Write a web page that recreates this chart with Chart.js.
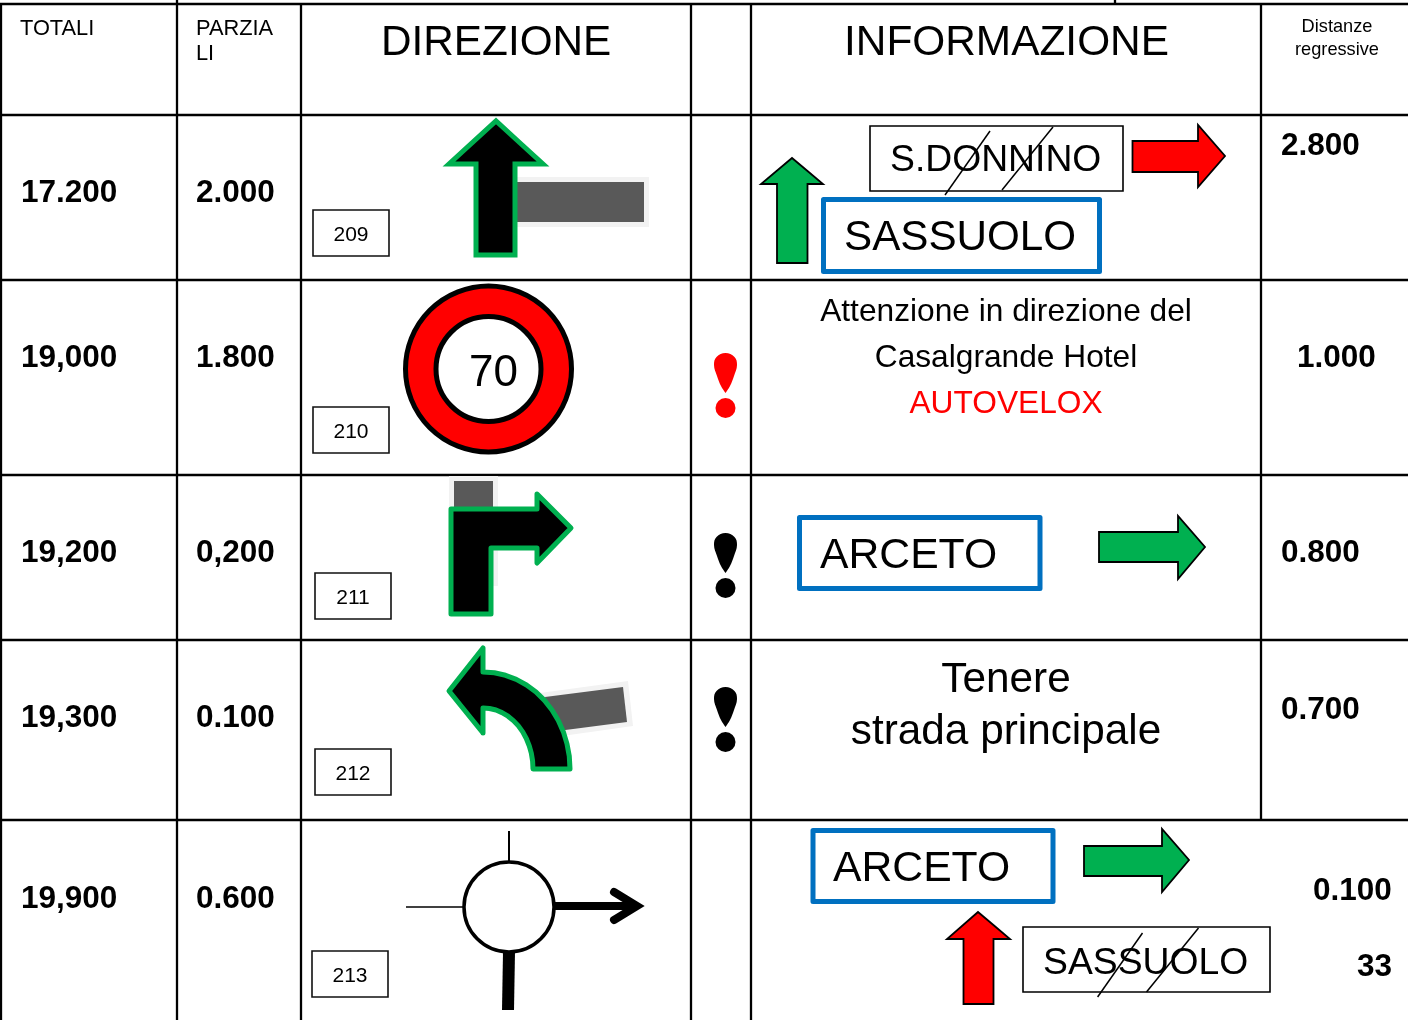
<!DOCTYPE html>
<html><head><meta charset="utf-8">
<style>html,body{margin:0;padding:0;background:#fff}canvas{display:block}</style>
<script src="https://cdn.jsdelivr.net/npm/chart.js@4"></script>
</head><body><canvas id="c" width="1408" height="1020"></canvas>
<script>
// ---- values ----
const totals = ['17.200','19,000','19,200','19,300','19,900'];
const partials = ['2.000','1.800','0,200','0.100','0.600'];
const rowBaselines = [202,367,562,727,908];
const signNumbers = ['209','210','211','212','213'];
const numberBoxes = [[313,210,389,256],[313,407,389,453],[315,573,391,619],[315,749,391,795],[312,951,388,997]];
const distances = [['2.800',1281,155],['1.000',1297,367],['0.800',1281,562],['0.700',1281,719],['0.100',1313,900],['33',1357,976]];
const columnLines = [[[1,4],[1,1020]],[[177,0],[177,1020]],[[301,4],[301,1020]],[[691,4],[691,1020]],[[751,4],[751,1020]],[[1261,4],[1261,820]],[[1115,0],[1115,4]]];
const rowLines = [4,115,280,475,640,820];
const headers = [['TOTALI',20,34.5,21.8,'left'],['PARZIA',196,34.5,21.8,'left'],['LI',196,60,21.8,'left'],['DIREZIONE',381,55,42.3,'left'],['INFORMAZIONE',844,55,42.4,'left'],['Distanze',1337,32,18.2,'center'],['regressive',1337,55,18.2,'center']];
const infoTexts = [
 ['S.DONNINO',890,171,37.3,'left','#000'],['SASSUOLO',844,250,42.2,'left','#000'],
 ['Attenzione in direzione del',1006,321,31.7,'center','#000'],['Casalgrande Hotel',1006,367,31.7,'center','#000'],['AUTOVELOX',1006,413,31.7,'center','#f00'],
 ['ARCETO',820,568,42.7,'left','#000'],['Tenere',1006,692,42.3,'center','#000'],['strada principale',1006,744,42.3,'center','#000'],
 ['ARCETO',833,881,42.7,'left','#000'],['SASSUOLO',1043,974,37.3,'left','#000'],['70',493.5,386,44,'center','#000']];
const road209Halo=[[517,177],[649,177],[649,227],[517,227],[517,177]];
const road209=[[517,182],[644,182],[644,222],[517,222],[517,182]];
const arrow209=[[496,121],[543,164],[515,164],[515,255],[476,255],[476,164],[449,164],[496,121]];
const road211Halo=[[449,476],[498,476],[498,586],[449,586],[449,476]];
const road211=[[454,481],[493,481],[493,581],[454,581],[454,481]];
const arrow211=[[451,509],[537,509],[537,494],[571,528],[537,563],[537,548],[491,548],[491,614],[451,614],[451,509]];
const road212Halo=[[540,693],[628,681],[633,726],[548,738],[540,693]];
const road212=[[545,697],[623,687],[627,722],[550,732],[545,697]];
const arrow212=[[449,691],[483,648],[483,672],[494.4,672.8],[505.5,675.3],[516.3,679.4],[526.5,685],[536,692],[544.5,700.4],[552,710],[558.3,720.5],[563.4,731.9],[567,743.9],[569.3,756.3],[570,769],[533,769],[532.6,761],[531.3,753.2],[529.2,745.7],[526.3,738.5],[522.7,731.9],[518.4,725.9],[513.4,720.6],[508,716.2],[502,712.6],[496,710],[489.5,708.5],[483,708],[483,733],[449,691]];
const upGreen=[[792,158],[823,184],[807.5,184],[807.5,263],[777,263],[777,184],[761,184],[792,158]];
const rightRed=[[1132.5,141],[1198,141],[1198,125],[1225,156],[1198,187],[1198,172],[1132.5,172],[1132.5,141]];
const rightGreen1=[[1099,532],[1178,532],[1178,516],[1205,547],[1178,579],[1178,562],[1099,562],[1099,532]];
const rightGreen2=[[1084,846],[1162,846],[1162,829],[1189,860],[1162,892],[1162,876],[1084,876],[1084,846]];
const upRed=[[978,912],[1010,939],[993.5,939],[993.5,1004],[963.5,1004],[963.5,939],[947,939],[978,912]];
const boxDonnino=[[870,126],[1123,126],[1123,191],[870,191],[870,126]];
const boxSassuoloStruck=[[1023,927],[1270,927],[1270,992],[1023,992],[1023,927]];
const blueSassuolo=[[823.5,199.5],[1099.5,199.5],[1099.5,271.5],[823.5,271.5],[823.5,199.5]];
const blueArceto1=[[799.5,517.5],[1040,517.5],[1040,588.5],[799.5,588.5],[799.5,517.5]];
const blueArceto2=[[813,830.5],[1053,830.5],[1053,901.5],[813,901.5],[813,830.5]];
const strikes=[[[990,131],[945,195]],[[1053,127],[1002,190]],[[1142.5,933],[1097.6,997]],[[1198.5,928],[1146.5,992]]];
const drops=[
 {color:'#f00',pts:[[725.5,393],[721,386],[717,376],[714,365],[716.5,357],[725.5,353],[734.5,357],[737,365],[734,376],[730,386],[725.5,393]],dot:[725.5,408]},
 {color:'#000',pts:[[725.5,573],[721,566],[717,556],[714,545],[716.5,537],[725.5,533],[734.5,537],[737,545],[734,556],[730,566],[725.5,573]],dot:[725.5,588]},
 {color:'#000',pts:[[725.5,727],[721,720],[717,710],[714,699],[716.5,691],[725.5,687],[734.5,691],[737,699],[734,710],[730,720],[725.5,727]],dot:[725.5,742]}];
const signCentre=[488.5,369];
const roundaboutCentre=[509,907];
const roundaboutTop=[[509,831],[509,861]];
const roundaboutLeft=[[406,907],[463,907]];
const roundaboutBottom=[[509,952],[508,1010]];
const roundaboutRight=[[555,906],[630,906]];
const roundaboutHead=[[614,892],[637,906],[614,920]];

// ---- build datasets in painting order ----
const toXY=p=>p.map(([x,y])=>({x,y}));
const GREEN='#00B050',BLUE='#0070C0',GRAY='#595959',HALO='#F2F2F2';
const ds=[];
// a closed outline starts and ends halfway along an edge so every corner gets a proper join
const seamless=p=>{const a=p[0],b=p[p.length-1];if(a[0]!==b[0]||a[1]!==b[1])return p;const c=p[1],m=[(a[0]+c[0])/2,(a[1]+c[1])/2];return [m,...p.slice(1),a,m];};
const shape=(pts,o)=>ds.push(Object.assign({type:'line',data:toXY(seamless(pts)),showLine:true,pointRadius:0,borderColor:'#000',borderWidth:1.8,backgroundColor:'transparent',fill:false,tension:0,borderJoinStyle:'miter',borderCapStyle:'butt'},o));
const filled=(pts,color,o={})=>shape(pts,Object.assign({fill:'shape',backgroundColor:color},o));
const disc=(c,r,fillC,bw)=>ds.push({type:'scatter',data:toXY([c]),pointRadius:r,pointBackgroundColor:fillC,pointBorderColor:'#000',pointBorderWidth:bw,showLine:false});

columnLines.forEach(l=>shape(l,{borderWidth:2.3}));
rowLines.forEach(y=>shape([[0,y],[1408,y]],{borderWidth:2.3}));
numberBoxes.forEach(([a,b,c,d])=>shape([[a,b],[c,b],[c,d],[a,d],[a,b]],{borderWidth:1.6,borderColor:'#111'}));
filled(road209Halo,HALO,{borderWidth:0});filled(road209,GRAY,{borderWidth:0});
filled(arrow209,'#000',{borderColor:GREEN,borderWidth:5});
disc(signCentre,83,'#f00',5);disc(signCentre,52.5,'#fff',5);
filled(road211Halo,HALO,{borderWidth:0});filled(road211,GRAY,{borderWidth:0});
filled(arrow211,'#000',{borderColor:GREEN,borderWidth:5,borderJoinStyle:'round'});
filled(road212Halo,HALO,{borderWidth:0});filled(road212,GRAY,{borderWidth:0});
filled(arrow212,'#000',{borderColor:GREEN,borderWidth:5,borderJoinStyle:'round'});
shape(roundaboutTop,{borderWidth:2});shape(roundaboutLeft,{borderWidth:1.5});
shape(roundaboutBottom,{borderWidth:12});shape(roundaboutRight,{borderWidth:8});
shape(roundaboutHead,{borderWidth:8,borderCapStyle:'round'});
disc(roundaboutCentre,45,'#fff',3.5);
drops.forEach(d=>{ds.push({type:'line',data:toXY(d.pts),showLine:true,pointRadius:0,borderWidth:0,tension:0.4,fill:'shape',backgroundColor:d.color,borderColor:d.color});
 ds.push({type:'scatter',data:toXY([d.dot]),pointRadius:10,pointBackgroundColor:d.color,pointBorderWidth:0,showLine:false});});
filled(upGreen,GREEN);filled(rightRed,'#f00');filled(rightGreen1,GREEN);filled(rightGreen2,GREEN);filled(upRed,'#f00');
shape(boxDonnino,{borderWidth:1.6});shape(boxSassuoloStruck,{borderWidth:1.6});
[blueSassuolo,blueArceto1,blueArceto2].forEach(b=>shape(b,{borderColor:BLUE,borderWidth:5,borderJoinStyle:'round'}));
strikes.forEach(s=>shape(s,{borderWidth:1.5}));
ds.reverse(); // Chart.js paints the last dataset first

const textPlugin={id:'tableText',afterDatasetsDraw(chart){
 const {ctx,scales:{x,y}}=chart;
 const put=(t,px,py,size,align,color,bold)=>{ctx.font=(bold?'bold ':'')+size+'px "Liberation Sans"';ctx.textAlign=align;ctx.textBaseline='alphabetic';ctx.fillStyle=color||'#000';ctx.fillText(t,x.getPixelForValue(px),y.getPixelForValue(py));};
 ctx.save();
 headers.forEach(h=>put(h[0],h[1],h[2],h[3],h[4],'#000'));
 totals.forEach((t,i)=>put(t,21,rowBaselines[i],31.5,'left','#000',true));
 partials.forEach((t,i)=>put(t,196,rowBaselines[i],31.5,'left','#000',true));
 distances.forEach(d=>put(d[0],d[1],d[2],31.5,'left','#000',true));
 signNumbers.forEach((t,i)=>{const b=numberBoxes[i];put(t,(b[0]+b[2])/2,b[1]+31,21,'center','#000');});
 infoTexts.forEach(t=>put(t[0],t[1],t[2],t[3],t[4],t[5]));
 ctx.restore();
}};

new Chart(document.getElementById('c'),{type:'scatter',data:{datasets:ds},plugins:[textPlugin],options:{
 responsive:false,animation:false,layout:{padding:0,autoPadding:false},events:[],
 plugins:{legend:{display:false},tooltip:{enabled:false},title:{display:false}},
 scales:{x:{type:'linear',min:0,max:1408,display:false},y:{type:'linear',min:0,max:1020,reverse:true,display:false}}
}});
</script></body></html>
